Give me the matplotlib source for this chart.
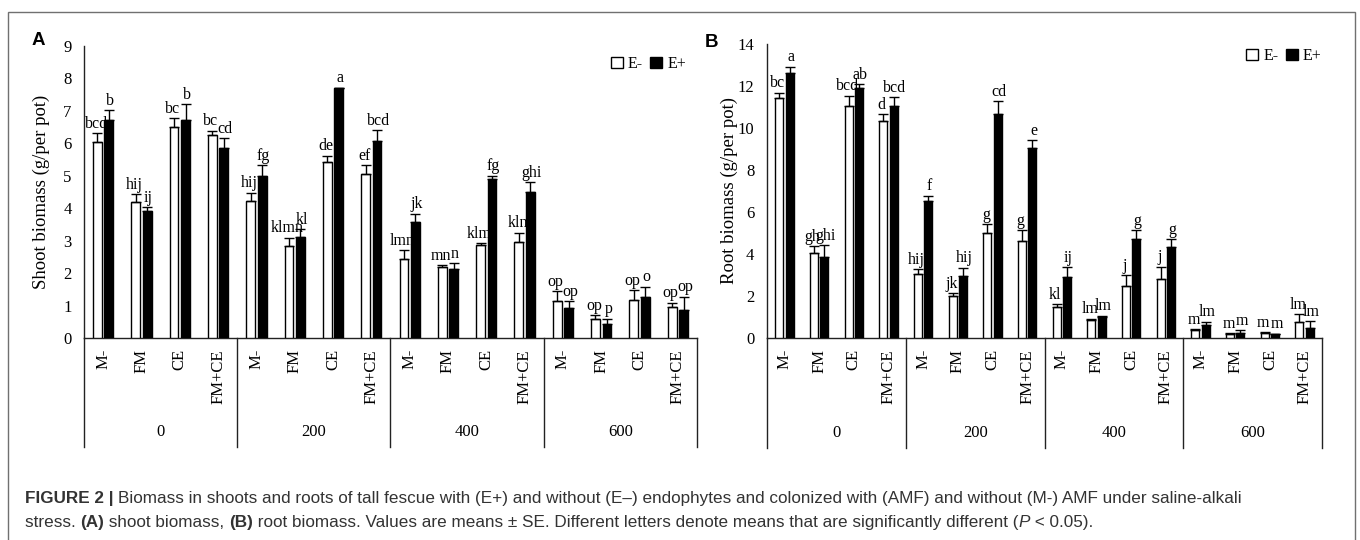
import matplotlib
matplotlib.use('Agg')
import matplotlib.pyplot as plt
import matplotlib.patches as patches
from matplotlib.transforms import blended_transform_factory
import numpy as np

# categories
treatments = ['M-', 'FM', 'CE', 'FM+CE']
salt_levels = ['0', '200', '400', '600']

# shoot biomass (panel A), means and SE (only upper bar drawn)
shoot_em = [6.05, 4.20, 6.51, 6.26, 4.23, 2.85, 5.41, 5.07, 2.44, 2.18, 2.87, 2.96, 1.14, 0.58, 1.17, 0.97]
shoot_em_se = [0.26, 0.24, 0.26, 0.13, 0.25, 0.24, 0.21, 0.26, 0.27, 0.07, 0.05, 0.29, 0.31, 0.12, 0.31, 0.12]
shoot_ep = [6.72, 3.91, 6.72, 5.87, 5.00, 3.12, 7.72, 6.08, 3.57, 2.12, 4.90, 4.49, 0.92, 0.43, 1.27, 0.86]
shoot_ep_se = [0.31, 0.12, 0.49, 0.29, 0.33, 0.23, 0.00, 0.33, 0.26, 0.18, 0.10, 0.31, 0.22, 0.17, 0.31, 0.41]
shoot_em_let = ['bcd', 'hij', 'bc', 'bc', 'hij', 'klmn', 'de', 'ef', 'lmn', 'mn', 'klm', 'kln', 'op', 'op', 'op', 'op']
shoot_ep_let = ['b', 'ij', 'b', 'cd', 'fg', 'kl', 'a', 'bcd', 'jk', 'n', 'fg', 'ghi', 'op', 'p', 'o', 'op']

# root biomass (panel B)
root_em = [11.41, 4.03, 11.06, 10.33, 3.05, 2.02, 4.98, 4.62, 1.49, 0.86, 2.49, 2.79, 0.38, 0.19, 0.25, 0.78]
root_em_se = [0.27, 0.35, 0.48, 0.34, 0.22, 0.11, 0.43, 0.51, 0.11, 0.06, 0.51, 0.61, 0.05, 0.03, 0.04, 0.35]
root_ep = [12.63, 3.87, 11.89, 11.06, 6.51, 2.97, 10.68, 9.06, 2.90, 1.02, 4.70, 4.35, 0.62, 0.25, 0.21, 0.49]
root_ep_se = [0.29, 0.56, 0.19, 0.40, 0.27, 0.38, 0.61, 0.37, 0.47, 0.04, 0.43, 0.35, 0.16, 0.13, 0.00, 0.32]
root_em_let = ['bc', 'gh', 'bcd', 'd', 'hij', 'jk', 'g', 'g', 'kl', 'lm', 'j', 'j', 'm', 'm', 'm', 'lm']
root_ep_let = ['a', 'ghi', 'ab', 'bcd', 'f', 'hij', 'cd', 'e', 'ij', 'lm', 'g', 'g', 'lm', 'm', 'm', 'lm']

SERIF = 'Liberation Serif'
SANS = 'Liberation Sans'
W, H = 1360, 540

fig = plt.figure(figsize=(W / 100, H / 100), dpi=100)


def panel(rect, em, em_se, ep, ep_se, em_let, ep_let, ymax, ystep, ylabel, lab_x, leg_xy):
    ax = fig.add_axes(rect)
    x = np.arange(len(em))
    bw, off = 0.23, 0.15
    ax.bar(x - off, em, bw, color='white', edgecolor='black', linewidth=1, zorder=3, label='E-')
    ax.bar(x + off, ep, bw, color='black', edgecolor='black', linewidth=1, zorder=3, label='E+')
    z = np.zeros(len(em))
    ax.errorbar(x - off, em, yerr=[z, em_se], fmt='none', ecolor='black', elinewidth=1, capsize=3.5, capthick=1, zorder=4)
    ax.errorbar(x + off, ep, yerr=[z, ep_se], fmt='none', ecolor='black', elinewidth=1, capsize=3.5, capthick=1, zorder=4)
    for i in range(len(em)):
        ax.annotate(em_let[i], (x[i] - off, em[i] + em_se[i]), xytext=(-1, 1), textcoords='offset points',
                    ha='center', va='bottom', fontsize=11.5, family=SERIF, zorder=2)
        ax.annotate(ep_let[i], (x[i] + off, ep[i] + ep_se[i]), xytext=(1, 1), textcoords='offset points',
                    ha='center', va='bottom', fontsize=11.5, family=SERIF, zorder=2)
    ax.set_xlim(-0.5, len(em) - 0.5)
    ax.set_ylim(0, ymax)
    ax.set_yticks(np.arange(0, ymax + 0.01, ystep))
    ax.set_xticks(x)
    ax.set_xticklabels(treatments * 4, rotation=90, family=SERIF, fontsize=12)
    ax.tick_params(axis='x', length=0, pad=8)
    ax.tick_params(axis='y', length=0, pad=9, labelsize=12)
    for t in ax.get_yticklabels():
        t.set_family(SERIF)
    for s in ['top', 'right']:
        ax.spines[s].set_visible(False)
    for s in ['left', 'bottom']:
        ax.spines[s].set_linewidth(1)
        ax.spines[s].set_color('#222222')
    ax.set_ylabel(ylabel, family=SERIF, fontsize=13.5)
    ax.yaxis.set_label_coords(lab_x, 0.5)
    # group boxes below the axis
    tr = blended_transform_factory(ax.transData, ax.transAxes)
    for b in [-0.5, 3.5, 7.5, 11.5, 15.5]:
        ax.plot([b, b], [0, -0.373], transform=tr, color='#222222', lw=1, clip_on=False)
    for k, lvl in enumerate(salt_levels):
        ax.text(4 * k + 1.5, -0.322, lvl, transform=tr, ha='center', va='center', family=SERIF, fontsize=12)
    ax.legend(loc='center right', bbox_to_anchor=leg_xy, ncol=2, frameon=False,
              handlelength=0.75, handleheight=0.75, handletextpad=0.3, columnspacing=0.5, borderpad=0,
              prop={'family': SERIF, 'size': 11.5})
    return ax


axA = panel([84 / W, 1 - 338 / H, (697 - 84) / W, (338 - 46) / H],
            shoot_em, shoot_em_se, shoot_ep, shoot_ep_se, shoot_em_let, shoot_ep_let,
            9, 1, 'Shoot biomass (g/per pot)', -0.055, (0.995, 0.938))
axB = panel([767 / W, 1 - 338 / H, (1322 - 767) / W, (338 - 44) / H],
            root_em, root_em_se, root_ep, root_ep_se, root_em_let, root_ep_let,
            14, 2, 'Root biomass (g/per pot)', -0.052, (1.014, 0.959))

fig.text(32 / W, 1 - 45 / H, 'A', family=SANS, weight='bold', fontsize=13.5, va='baseline')
fig.text(705 / W, 1 - 47 / H, 'B', family=SANS, weight='bold', fontsize=13.5, va='baseline')

# outer frame
fig.patches.append(patches.Rectangle((8 / W, -0.05), (1355 - 8) / W, 1 - 12 / H + 0.05,
                                     transform=fig.transFigure, fill=False, edgecolor='#707070', lw=1))

# caption with bold / italic pieces
renderer = fig.canvas.get_renderer()
cap_size = 12.3
cap_col = '#333333'


def piece_width(s, **kw):
    t1 = fig.text(0, 0, s + '|', fontsize=cap_size, family=SANS, **kw)
    t2 = fig.text(0, 0, '|', fontsize=cap_size, family=SANS, **kw)
    w = t1.get_window_extent(renderer).width - t2.get_window_extent(renderer).width
    t1.remove()
    t2.remove()
    return w


def rich_line(x_px, y_px, pieces):
    x = x_px
    for s, kw in pieces:
        fig.text(x / W, 1 - y_px / H, s, fontsize=cap_size, family=SANS, color=cap_col, va='baseline', **kw)
        x += piece_width(s, **kw)


B = {'weight': 'bold'}
N = {}
I = {'style': 'italic'}
rich_line(25, 503, [('FIGURE 2', B), (' | ', B),
                    ('Biomass in shoots and roots of tall fescue with (E+) and without (E\u2013) endophytes and '
                     'colonized with (AMF) and without (M-) AMF under saline-alkali', N)])
rich_line(25, 527, [('stress. ', N), ('(A)', B), (' shoot biomass, ', N), ('(B)', B),
                    (' root biomass. Values are means \u00b1 SE. Different letters denote means that are '
                     'significantly different (', N), ('P', I), (' < 0.05).', N)])

fig.savefig('out.png', dpi=100)
